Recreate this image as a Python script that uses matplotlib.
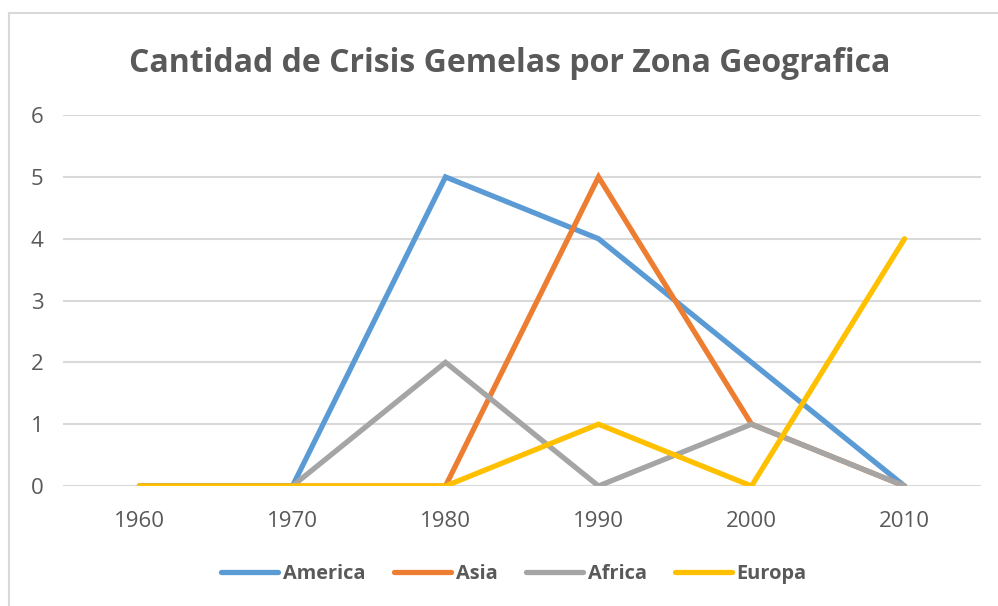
import matplotlib.pyplot as plt
from matplotlib.lines import Line2D

plt.rcParams["font.family"] = ["Open Sans", "DejaVu Sans"]

anios = ["1960", "1970", "1980", "1990", "2000", "2010"]
america = [0, 0, 5, 4, 2, 0]
asia = [0, 0, 0, 5, 1, 0]
africa = [0, 0, 2, 0, 1, 0]
europa = [0, 0, 0, 1, 0, 4]

series = [
    ("America", america, "#5B9BD5"),
    ("Asia", asia, "#ED7D31"),
    ("Africa", africa, "#A5A5A5"),
    ("Europa", europa, "#FFC000"),
]

gris = "#595959"

fig = plt.figure(figsize=(9.98, 6.06), dpi=100)
ax = fig.add_axes([0.0631, 0.198, 0.9199, 0.612])

x = list(range(len(anios)))
for nombre, valores, color in series:
    ax.plot(x, valores, color=color, linewidth=3.8, label=nombre,
            solid_capstyle="round", solid_joinstyle="miter", zorder=3)

ax.set_xlim(-0.5, len(anios) - 0.5)
ax.set_ylim(0, 6)
ax.set_xticks(x)
ax.set_xticklabels(anios)
ax.set_yticks(range(7))
ax.grid(axis="y", color="#D9D9D9", linewidth=1.5)
ax.set_axisbelow(True)
for s in ax.spines.values():
    s.set_visible(False)
ax.tick_params(length=0, labelsize=16, labelcolor=gris)
ax.tick_params(axis="x", pad=18)
ax.tick_params(axis="y", pad=14)

fig.text(0.511, 0.895, "Cantidad de Crisis Gemelas por Zona Geografica",
         ha="center", va="center", fontsize=23, fontweight="bold", color=gris)

handles = [Line2D([], [], color=c, linewidth=3.8, solid_capstyle="round")
           for _, _, c in series]
leg = fig.legend(handles, [n for n, _, _ in series], loc="center",
                 bbox_to_anchor=(0.515, 0.052), ncol=4, frameon=False,
                 handlelength=2.85, handletextpad=0.25, columnspacing=1.4,
                 prop={"size": 14.4, "weight": "bold"})
for t in leg.get_texts():
    t.set_color(gris)

# borde del grafico
fig.add_artist(Line2D([0.009, 1.0], [1 - 13 / 606, 1 - 13 / 606],
                      color="#D9D9D9", linewidth=1.5))
fig.add_artist(Line2D([0.009, 0.009], [0, 1 - 13 / 606],
                      color="#D9D9D9", linewidth=1.5))

fig.savefig("out.png", dpi=100)
